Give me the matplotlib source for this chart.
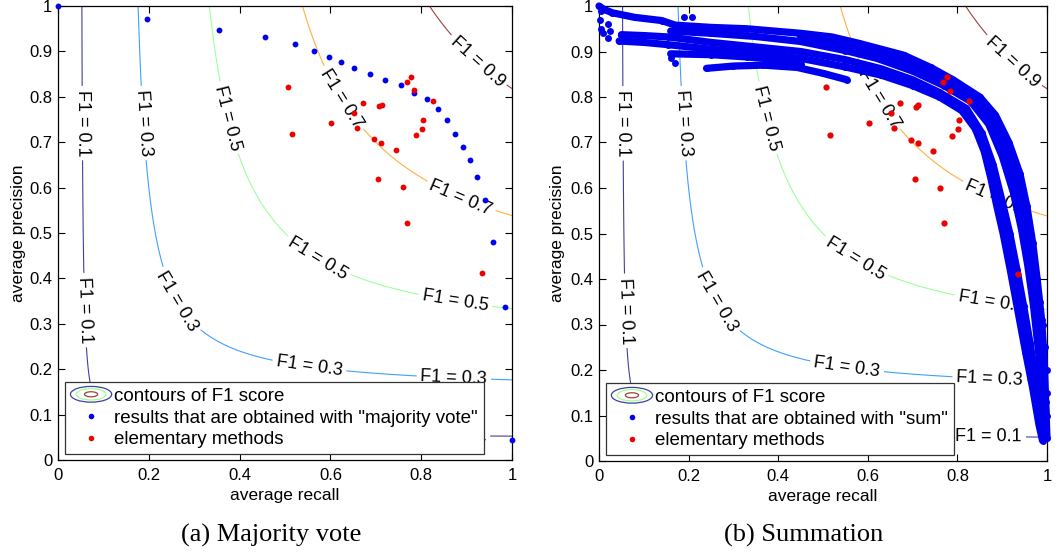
import matplotlib
matplotlib.use("Agg")
import matplotlib.pyplot as plt
import numpy as np
from matplotlib.legend_handler import HandlerBase
from matplotlib.patches import Ellipse

plt.rcParams['font.family'] = ['Liberation Sans', 'DejaVu Sans']

# elementary methods (same in both panels)
elem_recall = [0.507, 0.516, 0.602, 0.651, 0.658, 0.671, 0.697, 0.707, 0.713, 0.711,
               0.705, 0.745, 0.761, 0.768, 0.777, 0.784, 0.769, 0.788, 0.801, 0.804,
               0.827, 0.935]
elem_precision = [0.821, 0.717, 0.742, 0.764, 0.732, 0.786, 0.706, 0.779, 0.783, 0.699,
                  0.620, 0.682, 0.601, 0.833, 0.844, 0.814, 0.523, 0.715, 0.729, 0.749,
                  0.791, 0.411]

# majority vote results
vote_recall = [0.0, 0.197, 0.354, 0.457, 0.523, 0.564, 0.596, 0.624, 0.652, 0.687,
               0.721, 0.756, 0.785, 0.813, 0.836, 0.857, 0.874, 0.891, 0.907, 0.924,
               0.941, 0.958, 0.985, 1.0]
vote_precision = [1.0, 0.971, 0.948, 0.932, 0.916, 0.901, 0.888, 0.876, 0.863, 0.851,
                  0.838, 0.825, 0.809, 0.795, 0.774, 0.749, 0.719, 0.690, 0.660, 0.623,
                  0.572, 0.480, 0.338, 0.043]

# summation results, read as traces along the dense band
sum_traces = [
    ([0.0, 0.01, 0.03, 0.08, 0.14, 0.17, 0.25, 0.33, 0.45, 0.52, 0.58, 0.68, 0.74, 0.79,
      0.85, 0.885, 0.915, 0.94, 0.955, 0.968, 0.978, 0.988, 0.994, 0.997, 1.0],
     [1.0, 0.993, 0.985, 0.975, 0.968, 0.958, 0.953, 0.95, 0.94, 0.932, 0.918, 0.892, 0.865,
      0.838, 0.80, 0.76, 0.70, 0.63, 0.56, 0.48, 0.40, 0.31, 0.22, 0.13, 0.05]),
    ([0.45, 0.60, 0.70, 0.78, 0.84, 0.88, 0.91, 0.932, 0.95, 0.963, 0.975, 0.985, 0.993,
      0.998],
     [0.932, 0.905, 0.87, 0.83, 0.79, 0.745, 0.68, 0.61, 0.53, 0.45, 0.36, 0.27, 0.18,
      0.10]),
    ([0.16, 0.25, 0.35, 0.45, 0.55, 0.62, 0.70, 0.77, 0.83, 0.87, 0.90, 0.925, 0.943,
      0.957, 0.97, 0.98, 0.99, 0.995],
     [0.945, 0.94, 0.933, 0.922, 0.902, 0.885, 0.857, 0.825, 0.79, 0.74, 0.67, 0.59, 0.51,
      0.43, 0.34, 0.25, 0.16, 0.08]),
    ([0.05, 0.10, 0.155, 0.25, 0.35, 0.45, 0.55, 0.63, 0.70, 0.76, 0.82, 0.855, 0.88,
      0.90, 0.917, 0.933, 0.948, 0.962, 0.975, 0.987, 0.993],
     [0.937, 0.935, 0.932, 0.92, 0.91, 0.90, 0.882, 0.862, 0.838, 0.81, 0.775, 0.72, 0.65,
      0.57, 0.50, 0.42, 0.34, 0.26, 0.18, 0.10, 0.05]),
    ([0.045, 0.10, 0.155, 0.25, 0.35, 0.45, 0.55, 0.63, 0.70, 0.76, 0.81, 0.84, 0.86,
      0.875, 0.888, 0.902, 0.918, 0.935, 0.952, 0.968, 0.982, 0.99],
     [0.923, 0.92, 0.915, 0.905, 0.896, 0.885, 0.866, 0.848, 0.825, 0.80, 0.77, 0.73, 0.68,
      0.62, 0.56, 0.50, 0.42, 0.33, 0.24, 0.16, 0.08, 0.045]),
    ([0.16, 0.25, 0.33, 0.40, 0.45],
     [0.895, 0.893, 0.888, 0.882, 0.872]),
    ([0.24, 0.30, 0.367, 0.442, 0.50, 0.553],
     [0.863, 0.868, 0.87, 0.865, 0.852, 0.838]),
]
# loose dots around the band
sum_loose_recall = [0.003, 0.005, 0.01, 0.02, 0.025, 0.02, 0.005, 0.16, 0.17, 0.19, 0.207,
                    0.985, 0.99, 0.995, 1.0, 1.0, 1.0, 0.95, 0.96, 0.975,
                    0.86, 0.868, 0.875, 0.88, 0.89, 0.90, 0.91, 0.925, 0.93]
sum_loose_precision = [0.97, 0.95, 0.94, 0.93, 0.945, 0.96, 0.99, 0.885, 0.875, 0.975, 0.976,
                       0.35, 0.30, 0.25, 0.20, 0.15, 0.10, 0.30, 0.22, 0.14,
                       0.70, 0.66, 0.64, 0.60, 0.58, 0.55, 0.47, 0.40, 0.37]

levels = [0.1, 0.3, 0.5, 0.7, 0.9]
label_spots = [(0.051, 0.742), (0.055, 0.33), (0.87, 0.05), (0.184, 0.742), (0.261, 0.349),
               (0.554, 0.209), (0.872, 0.18), (0.371, 0.753), (0.569, 0.44),
               (0.874, 0.341), (0.62, 0.793), (0.885, 0.573), (0.921, 0.874)]

# jet colours, washed out a little towards white
jet = plt.get_cmap('jet')
line_colors = [tuple(0.25 + 0.75 * c for c in jet(i / 4)[:3]) for i in range(5)]


class ContourKey:
    pass


class ContourHandler(HandlerBase):
    def create_artists(self, legend, orig_handle, xdescent, ydescent, width, height,
                       fontsize, trans):
        cx = 0.5 * width - xdescent
        cy = 0.5 * height - ydescent
        arts = []
        for frac, col in [(1.0, line_colors[0]), (0.72, line_colors[2]),
                          (0.32, line_colors[4])]:
            arts.append(Ellipse((cx, cy), width * frac, height * 1.2 * frac, fill=False,
                                edgecolor=col, lw=0.9, transform=trans))
        return arts


rr = np.linspace(0, 1, 501)
R, P = np.meshgrid(rr, rr)
with np.errstate(invalid='ignore', divide='ignore'):
    F = np.where(R + P > 0, 2 * R * P / (R + P), 0)

fig = plt.figure(figsize=(10.6, 5.52), dpi=100)
ax1 = fig.add_axes([58 / 1060, 92 / 552, 454 / 1060, 454 / 552])
ax2 = fig.add_axes([599 / 1060, 91 / 552, 448 / 1060, 455 / 552])


def setup(ax):
    cs = ax.contour(R, P, F, levels=levels, colors=line_colors, linewidths=0.8, zorder=1)
    ax.clabel(cs, fmt={l: 'F1 = %.1f' % l for l in levels}, fontsize=13, colors='k',
              inline=True, inline_spacing=4, manual=label_spots)
    ax.set_xlim(0, 1)
    ax.set_ylim(0, 1)
    ax.set_xticks(np.arange(0, 1.01, 0.2))
    ax.set_yticks(np.arange(0, 1.01, 0.1))
    ax.xaxis.set_major_formatter(plt.FormatStrFormatter('%g'))
    ax.yaxis.set_major_formatter(plt.FormatStrFormatter('%g'))
    ax.tick_params(direction='in', top=True, right=True, length=5, labelsize=12,
                   width=0.8)
    ax.tick_params(axis='x', pad=6)
    ax.tick_params(axis='y', pad=4)
    ax.set_xlabel('average recall', fontsize=12.5, va='center')
    ax.set_ylabel('average precision', fontsize=12.5, va='center')
    ax.xaxis.set_label_coords(0.5, -0.079)
    for s in ax.spines.values():
        s.set_linewidth(0.9)


setup(ax1)
setup(ax2)
ax1.yaxis.set_label_coords(-0.088, 0.5)
ax2.yaxis.set_label_coords(-0.092, 0.5)

ax1.plot(vote_recall, vote_precision, 'o', color='#0000ee', ms=4.2, mec='none', zorder=3,
         clip_on=False)
ax1.plot(elem_recall, elem_precision, 'o', color='#ee0000', ms=4.2, mec='none', zorder=4)

for tr_r, tr_p in sum_traces:
    ax2.plot(tr_r, tr_p, '-o', color='#0000ee', lw=5.2, ms=5, mec='none',
             solid_capstyle='round', solid_joinstyle='round', zorder=3, clip_on=False)
ax2.plot(sum_loose_recall, sum_loose_precision, 'o', color='#0000ee', ms=5, mec='none',
         zorder=3, clip_on=False)
ax2.plot(elem_recall, elem_precision, 'o', color='#ee0000', ms=4.5, mec='none', zorder=4)

for ax, lab in [(ax1, 'results that are obtained with "majority vote"'),
                (ax2, 'results that are obtained with "sum"')]:
    dot_b = plt.Line2D([], [], ls='none', marker='o', ms=4, color='#0000ee', mec='none')
    dot_r = plt.Line2D([], [], ls='none', marker='o', ms=4, color='#ee0000', mec='none')
    leg = ax.legend([ContourKey(), dot_b, dot_r],
                    ['contours of F1 score', lab, 'elementary methods'],
                    handler_map={ContourKey: ContourHandler()},
                    loc='lower left', bbox_to_anchor=(0.015, 0.013), borderaxespad=0,
                    fontsize=13.5, fancybox=False, framealpha=1, edgecolor='#333333',
                    handlelength=2.2, handletextpad=0.15, labelspacing=0.25,
                    borderpad=0.3)
    leg.get_frame().set_linewidth(0.9)
    leg.set_zorder(10)

fig.text(271 / 1060, 1 - 535 / 552, '(a) Majority vote', ha='center', va='center',
         fontsize=19, family='Liberation Serif')
fig.text(804 / 1060, 1 - 535 / 552, '(b) Summation', ha='center', va='center',
         fontsize=19, family='Liberation Serif')

fig.savefig('out.png', dpi=100)
